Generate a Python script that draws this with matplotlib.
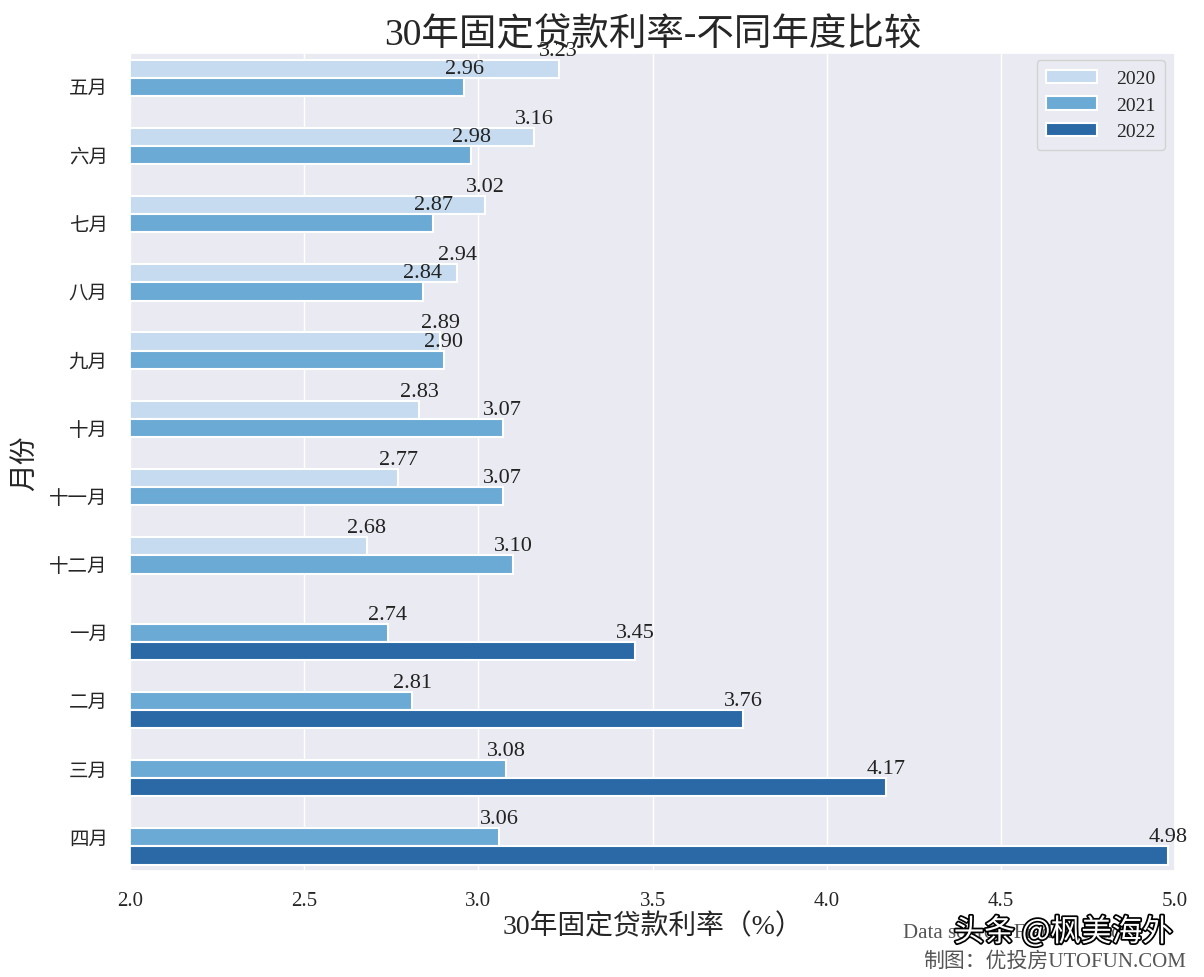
import matplotlib.pyplot as plt
import matplotlib.patheffects as pe
import seaborn as sns

months = ["五月", "六月", "七月", "八月", "九月", "十月", "十一月", "十二月",
          "一月", "二月", "三月", "四月"]
years = ["2020", "2021", "2022"]
rate_2020 = [3.23, 3.16, 3.02, 2.94, 2.89, 2.83, 2.77, 2.68,
             None, None, None, None]
rate_2021 = [2.96, 2.98, 2.87, 2.84, 2.90, 3.07, 3.07, 3.10,
             2.74, 2.81, 3.08, 3.06]
rate_2022 = [None, None, None, None, None, None, None, None,
             3.45, 3.76, 4.17, 4.98]
xticks = [2.0, 2.5, 3.0, 3.5, 4.0, 4.5, 5.0]

sns.set_theme(style="darkgrid")
plt.rcParams["font.family"] = ["Liberation Serif", "Noto Sans CJK SC", "DejaVu Sans"]
plt.rcParams["axes.unicode_minus"] = False

colors = ["#c6dbef", "#6baad4", "#2a69a6"]

fig = plt.figure(figsize=(12.04, 9.78), dpi=100)
ax = fig.add_axes([0.108, 0.108, 0.868, 0.837])

width = 0.8 / 3
series = [rate_2020, rate_2021, rate_2022]
for k, (yr, vals) in enumerate(zip(years, series)):
    pos = [i + (k - 1) * width for i, v in enumerate(vals) if v is not None]
    w = [v for v in vals if v is not None]
    ax.barh(pos, w, height=width, color=colors[k], edgecolor="white",
            linewidth=1.5, label=yr)
    for p, v in zip(pos, w):
        ax.text(v, p - width / 2, f"{v:.2f}", ha="center", va="bottom",
                fontsize=16, color="#222222")

ax.set_xlim(2.0, 5.0)
ax.set_ylim(len(months) - 0.5, -0.5)
ax.set_yticks(range(len(months)))
ax.set_yticklabels(months, fontsize=14)
ax.set_xticks(xticks)
ax.set_xticklabels([f"{t:.1f}" for t in xticks], fontsize=15)
ax.grid(axis="y", visible=False)
ax.tick_params(axis="x", pad=8)
ax.tick_params(axis="y", pad=10)

ax.set_title("30年固定贷款利率-不同年度比较", fontsize=27, pad=6)
ax.set_xlabel("30年固定贷款利率（%）", fontsize=20, labelpad=2)
ax.set_ylabel("月份", fontsize=20, labelpad=8)

ax.legend(loc="upper right", fontsize=14, borderpad=0.5, labelspacing=0.45,
          handlelength=2.6, handletextpad=1.0, bbox_to_anchor=(1.0, 1.003))

# source note, partly hidden by the platform watermark
fig.text(0.750, 0.046, "Data source: Freddie Mac", ha="left", va="center",
         fontsize=15, color="#555555")
fig.text(0.767, 0.016, "制图：优投房UTOFUN.COM", ha="left", va="center",
         fontsize=15, color="#555555")
fig.text(0.883, 0.046, "头条 @枫美海外", ha="center", va="center",
         fontsize=22, color="white", family=["Noto Sans CJK SC", "DejaVu Sans"],
         path_effects=[pe.withStroke(linewidth=2.5, foreground="black")])

fig.savefig("out.png", dpi=100)
